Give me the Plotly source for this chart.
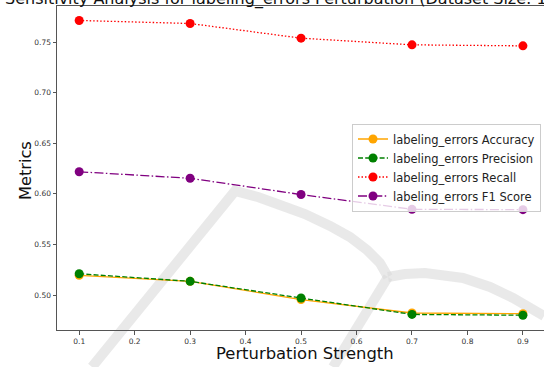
import plotly.graph_objects as go

strengths = [0.1, 0.3, 0.5, 0.7, 0.9]
accuracy = [0.5195, 0.5135, 0.4955, 0.4822, 0.4815]
precision = [0.5210, 0.5135, 0.4970, 0.4808, 0.4800]
recall = [0.7714, 0.7684, 0.7539, 0.7473, 0.7463]
f1 = [0.6218, 0.6154, 0.5993, 0.5847, 0.5844]

x_ticks = [0.1, 0.2, 0.3, 0.4, 0.5, 0.6, 0.7, 0.8, 0.9]
y_ticks = [0.50, 0.55, 0.60, 0.65, 0.70, 0.75]

series = [
    ("labeling_errors Accuracy", accuracy, "orange", "solid"),
    ("labeling_errors Precision", precision, "green", "5px,2.2px"),
    ("labeling_errors Recall", recall, "red", "1.5px,2px"),
    ("labeling_errors F1 Score", f1, "purple", "9px,2.4px,1.5px,2.4px"),
]

FONT = "DejaVu Sans"
W, H = 544, 367
L, R, T, B = 57, 544, 6, 330

def px2paper(px, py):
    return (px - L) / (R - L), (B - py) / (B - T)

fig = go.Figure()
for name, vals, color, dash in series:
    fig.add_trace(go.Scatter(
        x=strengths, y=vals, name=name, mode="lines+markers",
        line=dict(color=color, width=1.3, dash=dash),
        marker=dict(color=color, size=9),
    ))

# faint background watermark strokes
def path_from(points):
    s = ""
    for i, (px, py) in enumerate(points):
        x, y = px2paper(px, py)
        s += ("M" if i == 0 else "L") + f"{x:.4f},{y:.4f} "
    return s

wm = [
    [(92, 367), (235, 191), (258, 197), (280, 205), (305, 214), (330, 226),
     (350, 237), (367, 250), (380, 263), (388, 277)],
    [(388, 277), (405, 274), (425, 273), (463, 278), (490, 287), (513, 298), (544, 316)],
    [(388, 277), (333, 367)],
]
shapes = []
for pts in wm:
    shapes.append(dict(type="path", xref="paper", yref="paper", path=path_from(pts),
                       line=dict(color="rgba(218,218,218,0.6)", width=10),
                       layer="below"))

tx, ty = px2paper(3, -1)
mx, my = px2paper(25.5, 170.5)
sx, sy = px2paper(305, 353)
lx, ly = px2paper(541, 167.5)
fig.update_layout(
    width=W, height=H,
    margin=dict(l=L, r=W - R, t=T, b=H - B, pad=0),
    plot_bgcolor="white", paper_bgcolor="white",
    font=dict(family=FONT, color="#222"),
    showlegend=True,
    shapes=shapes,
    legend=dict(
        x=lx, y=ly, xanchor="right", yanchor="middle",
        font=dict(family=FONT, size=11.5, color="#222"),
        bgcolor="rgba(255,255,255,0.8)", bordercolor="#cccccc", borderwidth=1,
        tracegroupgap=0,
    ),
    annotations=[
        dict(text="Sensitivity Analysis for labeling_errors Perturbation (Dataset Size: 1000)",
             xref="paper", yref="paper", x=tx, y=ty, xanchor="left", yanchor="middle",
             showarrow=False, font=dict(family=FONT, size=16, color="#111")),
        dict(text="Metrics", xref="paper", yref="paper", x=mx, y=my, textangle=-90,
             xanchor="center", yanchor="middle", showarrow=False,
             font=dict(family=FONT, size=16.2, color="#111")),
        dict(text="Perturbation Strength", xref="paper", yref="paper", x=sx, y=sy,
             xanchor="center", yanchor="middle", showarrow=False,
             font=dict(family=FONT, size=16.4, color="#111")),
    ],
    xaxis=dict(
        range=[0.06, 0.938], tickvals=x_ticks, ticktext=[f"{v:.1f}" for v in x_ticks],
        showgrid=False, zeroline=False, showline=True, linecolor="#555", linewidth=1,
        mirror=True, ticks="outside", ticklen=3.5, tickcolor="#555",
        tickfont=dict(family=FONT, size=7.5, color="#333"),
    ),
    yaxis=dict(
        range=[0.4654, 0.7857], tickvals=y_ticks, ticktext=[f"{v:.2f}" for v in y_ticks],
        showgrid=False, zeroline=False, showline=True, linecolor="#555", linewidth=1,
        mirror=False, ticks="outside", ticklen=3.5, tickcolor="#555",
        tickfont=dict(family=FONT, size=7.5, color="#333"),
    ),
)

fig.write_html("out.html")
